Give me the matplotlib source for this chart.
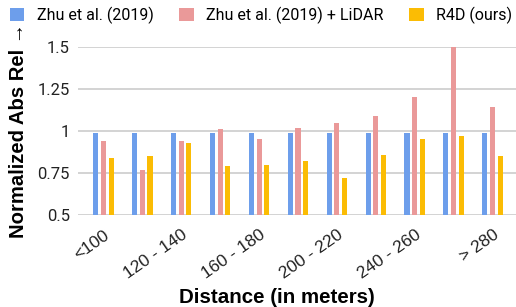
import matplotlib.pyplot as plt
import matplotlib.transforms as mtransforms
import numpy as np

plt.rcParams['font.family'] = ['Roboto', 'DejaVu Sans']

bins = ['<100', '100 - 120', '120 - 140', '140 - 160', '160 - 180', '180 - 200',
        '200 - 220', '220 - 240', '240 - 260', '260 - 280', '> 280']
zhu = [0.99, 0.99, 0.99, 0.99, 0.99, 0.99, 0.99, 0.99, 0.99, 0.99, 0.99]
zhu_lidar = [0.94, 0.77, 0.94, 1.01, 0.95, 1.02, 1.05, 1.09, 1.20, 1.60, 1.14]
r4d = [0.84, 0.85, 0.93, 0.79, 0.80, 0.82, 0.72, 0.86, 0.95, 0.97, 0.85]

series = [('Zhu et al. (2019)', zhu, '#6d9eeb'),
          ('Zhu et al. (2019) + LiDAR', zhu_lidar, '#ea9999'),
          ('R4D (ours)', r4d, '#fbbc04')]

fig = plt.figure(figsize=(5.16, 3.07), dpi=100)
ax = fig.add_axes([78/516, 1 - 215/307, 438/516, 168/307])

x = np.arange(len(bins))
for i, (name, vals, col) in enumerate(series):
    ax.bar(x + (i - 1) * 0.2, np.array(vals) - 0.5, bottom=0.5, width=0.13,
           color=col, label=name, zorder=3)

ax.set_ylim(0.5, 1.5)
ax.set_xlim(-0.65, 10.6)
ax.set_yticks([0.5, 0.75, 1, 1.25, 1.5])
ax.set_yticklabels(['0.5', '0.75', '1', '1.25', '1.5'])
ax.grid(axis='y', color='#cccccc', linewidth=1.2, zorder=0)
for s in ax.spines.values():
    s.set_visible(False)
ax.tick_params(axis='both', length=0, labelsize=12, colors='#222222')
ax.tick_params(axis='y', pad=6)

ax.set_xticks(x[::2])
ax.set_xticklabels(bins[::2], rotation=35, ha='right', rotation_mode='anchor',
                   fontsize=12.5, family=['Liberation Sans', 'DejaVu Sans'])
shift = mtransforms.ScaledTranslation(8/100, 0, fig.dpi_scale_trans)
for lbl in ax.get_xticklabels():
    lbl.set_transform(lbl.get_transform() + shift)
ax.tick_params(axis='x', pad=9)

ax.set_ylabel('Normalized Abs Rel \u2192', fontsize=14.6, fontweight='bold',
              family=['Liberation Sans', 'DejaVu Sans'], labelpad=7)
fig.text(0.537, 0.0, 'Distance (in meters)', fontsize=14.8, fontweight='bold',
         family=['Liberation Sans', 'DejaVu Sans'], ha='center', va='bottom')

fig.legend(loc='upper left', bbox_to_anchor=(0.0, 1.01), ncol=3, frameon=False,
           fontsize=11.5, handlelength=0.9, handleheight=0.9, handletextpad=0.8,
           columnspacing=1.6, borderaxespad=0.2)

fig.savefig('out.png', dpi=100)
